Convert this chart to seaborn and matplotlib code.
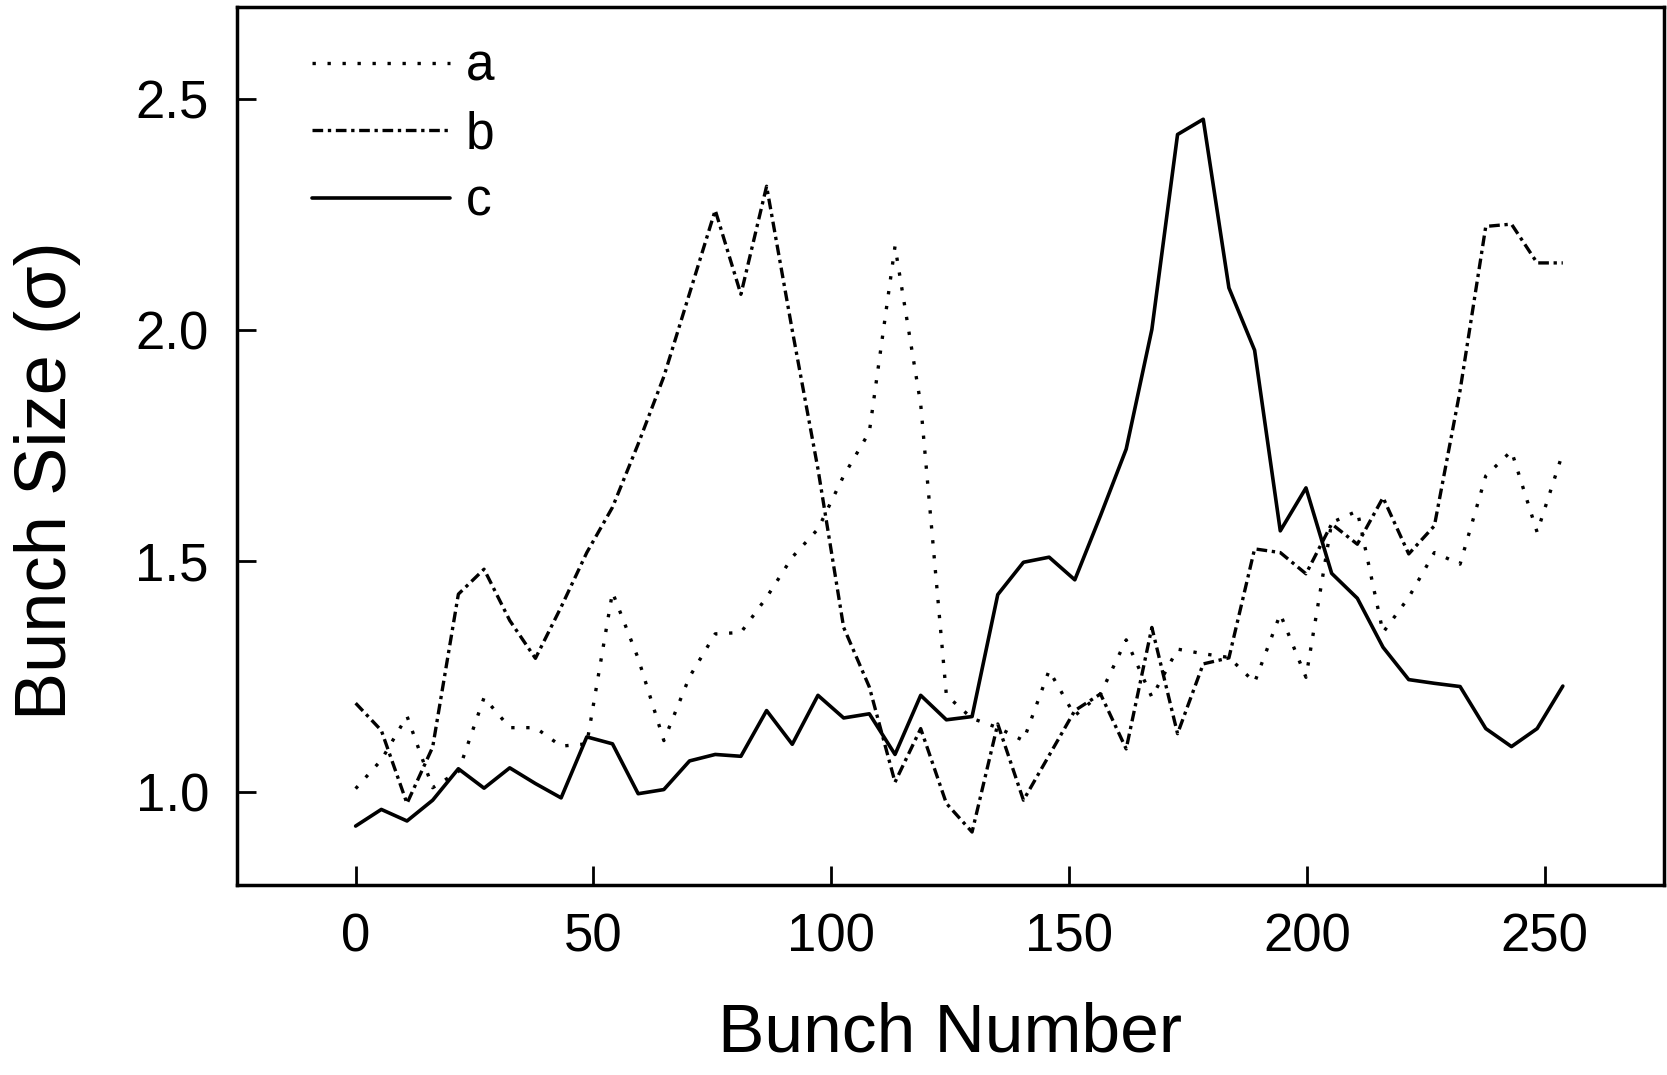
import numpy as np
import pandas as pd
import matplotlib
matplotlib.use('Agg')
import matplotlib.pyplot as plt
import seaborn as sns

sns.set_theme(style='white')
plt.rcParams['font.family'] = ['Liberation Sans', 'DejaVu Sans']

# bunch numbers
bunch = [0, 5.4, 10.8, 16.2, 21.6, 27, 32.4, 37.8, 43.2, 48.6, 54, 59.4,
         64.8, 70.2, 75.6, 81, 86.4, 91.8, 97.2, 102.6, 108, 113.4, 118.8, 124.2,
         129.6, 135, 140.4, 145.8, 151.2, 156.6, 162, 167.4, 172.8, 178.2, 183.6, 189,
         194.4, 199.8, 205.2, 210.6, 216, 221.4, 226.8, 232.2, 237.6, 243, 248.4, 253.8]

size_a = [1.008, 1.07, 1.165, 1.01, 1.045, 1.205, 1.14, 1.14, 1.10, 1.105, 1.433, 1.29,
          1.112, 1.25, 1.343, 1.346, 1.422, 1.509, 1.57, 1.685, 1.78, 2.182, 1.84, 1.21,
          1.16, 1.14, 1.112, 1.264, 1.166, 1.213, 1.33, 1.206, 1.31, 1.30, 1.292, 1.238,
          1.386, 1.249, 1.584, 1.609, 1.346, 1.422, 1.519, 1.494, 1.685, 1.739, 1.563, 1.735]

size_b = [1.193, 1.134, 0.976, 1.098, 1.429, 1.483, 1.372, 1.290, 1.401, 1.519, 1.617, 1.754,
          1.90, 2.08, 2.26, 2.078, 2.312, 2.00, 1.70, 1.357, 1.228, 1.022, 1.138, 0.976,
          0.914, 1.148, 0.983, 1.08, 1.177, 1.213, 1.094, 1.357, 1.127, 1.278, 1.291, 1.527,
          1.519, 1.473, 1.581, 1.537, 1.638, 1.516, 1.577, 1.87, 2.225, 2.230, 2.146, 2.146]

size_c = [0.927, 0.963, 0.938, 0.983, 1.051, 1.009, 1.053, 1.019, 0.988, 1.120, 1.105, 0.997,
          1.006, 1.068, 1.082, 1.078, 1.177, 1.104, 1.210, 1.161, 1.170, 1.082, 1.210, 1.157,
          1.164, 1.428, 1.498, 1.509, 1.460, 1.599, 1.743, 2.002, 2.424, 2.457, 2.092, 1.957,
          1.566, 1.659, 1.474, 1.420, 1.314, 1.244, 1.236, 1.229, 1.138, 1.099, 1.138, 1.230]

fig = plt.figure(figsize=(16.67, 10.75), dpi=100)
ax = fig.add_axes([0.142, 0.177, 0.856, 0.8165])

sns.lineplot(x=bunch, y=size_a, ax=ax, color='black', lw=2.4,
             linestyle=(0, (1, 3.5)), label='a')
sns.lineplot(x=bunch, y=size_b, ax=ax, color='black', lw=2.4,
             linestyle=(0, (3.2, 1.4, 1, 1.4)), label='b')
sns.lineplot(x=bunch, y=size_c, ax=ax, color='black', lw=2.6,
             linestyle='-', label='c')

ax.set_xlim(-25, 275)
ax.set_ylim(0.8, 2.7)
ax.set_xticks([0, 50, 100, 150, 200, 250])
ax.set_yticks([1.0, 1.5, 2.0, 2.5])
ax.set_yticklabels(['1.0', '1.5', '2.0', '2.5'])

for s in ax.spines.values():
    s.set_visible(True)
    s.set_color('black')
    s.set_linewidth(2.5)

ax.tick_params(axis='both', direction='in', length=14, width=2, labelsize=38,
               pad=20, colors='black', labelcolor='black',
               bottom=True, left=True, top=False, right=False)

ax.set_xlabel('Bunch Number', fontsize=50, labelpad=28, color='black')
ax.set_ylabel('Bunch Size (σ)', fontsize=52, color='black')
ax.yaxis.set_label_coords(-0.109, 0.46)

leg = ax.legend(loc='upper left', bbox_to_anchor=(0.02, 1.012), frameon=False,
                fontsize=37, handlelength=2.7, labelspacing=0.36, handletextpad=0.3)
for t in leg.get_texts():
    t.set_color('black')

fig.savefig('out.png', dpi=100, facecolor='white')
